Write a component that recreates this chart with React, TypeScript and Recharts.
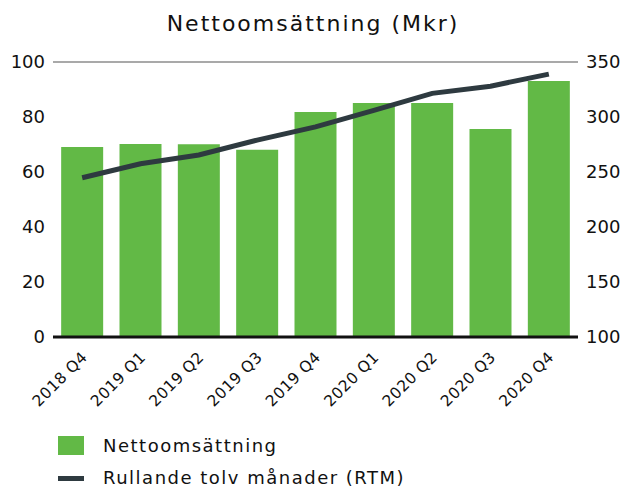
import { ComposedChart, Bar, Line, XAxis, YAxis, CartesianGrid } from "recharts";

const quarters = ["2018 Q4", "2019 Q1", "2019 Q2", "2019 Q3", "2019 Q4", "2020 Q1", "2020 Q2", "2020 Q3", "2020 Q4"];
const netSales = [69.1, 70.2, 70.1, 68.1, 81.8, 85.1, 85.1, 75.6, 93.1];
const rtm = [244.8, 257.5, 265.5, 279, 291, 306, 321.5, 328, 339];
const leftTicks = [0, 20, 40, 60, 80, 100];
const rightTicks = [100, 150, 200, 250, 300, 350];

const GREEN = "#62b946";
const DARK = "#2e3a40";
const FONT = "'DejaVu Sans', sans-serif";

const data = quarters.map((q, i) => ({ q, sales: netSales[i], rtm: rtm[i] }));

const XTick = (props: any) => {
  const { x, y, payload } = props;
  return (
    <g transform={`translate(${x - 1},${y + 6})`}>
      <text textAnchor="end" transform="rotate(-45)" fontSize={15.5} fill="#111" fontFamily={FONT} dy={10} letterSpacing={0.5}>
        {payload.value}
      </text>
    </g>
  );
};

const App = () => (
  <div style={{ position: "absolute", left: 0, top: 0, width: 626, height: 488, fontFamily: FONT, color: "#111" }}>
    <div style={{ position: "absolute", top: 12, left: 0, width: 626, textAlign: "center", fontSize: 22, lineHeight: "24px", letterSpacing: 2 }}>
      Nettoomsättning (Mkr)
    </div>
    <ComposedChart width={626} height={420} data={data} margin={{ top: 62, right: 0, left: 0, bottom: 0 }} barCategoryGap="14%">
      <CartesianGrid vertical={false} stroke="#8c8c8c" strokeWidth={1.5} />
      <XAxis dataKey="q" height={83} tickLine={false} axisLine={{ stroke: "#111", strokeWidth: 3 }} tick={<XTick />} interval={0} />
      <YAxis yAxisId="left" width={53} domain={[0, 100]} ticks={leftTicks} tickLine={false} axisLine={false}
        tick={{ fontSize: 18, fill: "#111", fontFamily: FONT }} />
      <YAxis yAxisId="right" orientation="right" width={48} domain={[100, 350]} ticks={rightTicks} tickLine={false} axisLine={false}
        tick={{ fontSize: 18, fill: "#111", fontFamily: FONT, textAnchor: "start" }} />
      <Bar yAxisId="left" dataKey="sales" fill={GREEN} isAnimationActive={false} />
      <Line yAxisId="right" dataKey="rtm" stroke={DARK} strokeWidth={5} dot={false} type="linear" isAnimationActive={false} />
    </ComposedChart>
    <div style={{ position: "absolute", left: 58, top: 434, height: 22, display: "flex", alignItems: "center", fontSize: 18, letterSpacing: 1.5, whiteSpace: "nowrap" }}>
      <span style={{ display: "inline-block", width: 26, height: 19, background: GREEN, marginRight: 19 }} />
      Nettoomsättning
    </div>
    <div style={{ position: "absolute", left: 58, top: 468, height: 20, display: "flex", alignItems: "center", fontSize: 18, lineHeight: "20px", letterSpacing: 1.5, whiteSpace: "nowrap" }}>
      <span style={{ display: "inline-block", width: 26, height: 5, background: DARK, marginRight: 19 }} />
      Rullande tolv månader (RTM)
    </div>
  </div>
);

export default App;
